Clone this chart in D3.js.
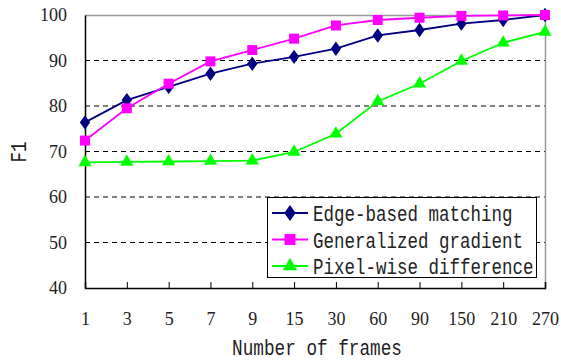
<!DOCTYPE html>
<html>
<head>
<script src="https://d3js.org/d3.v7.min.js"></script>
<style>
  body { margin: 0; background: #fff; }
  svg { display: block; }
</style>
</head>
<body>
<div id="chart"></div>
<script>
var frames = ["1", "3", "5", "7", "9", "15", "30", "60", "90", "150", "210", "270"];
var edgeBased = [76.4, 81.3, 84.2, 87.1, 89.3, 90.8, 92.6, 95.5, 96.7, 98.1, 98.9, 100];
var generalized = [72.4, 79.5, 84.9, 89.8, 92.3, 94.8, 97.7, 98.9, 99.4, 99.8, 99.9, 100];
var pixelWise = [67.6, 67.7, 67.8, 67.9, 68.0, 69.9, 73.9, 81.0, 84.9, 89.9, 93.9, 96.3];
var yTicks = [40, 50, 60, 70, 80, 90, 100];
var seriesNames = ["Edge-based matching", "Generalized gradient", "Pixel-wise difference"];

var W = 561, H = 362;
var pLeft = 85, pRight = 545, pTop = 15, pBottom = 288;

var svg = d3.select("#chart").append("svg")
  .attr("width", W)
  .attr("height", H);

var x = d3.scalePoint().domain(frames).range([pLeft, pRight]);
var y = d3.scaleLinear().domain([40, 100]).range([pBottom, pTop]);

var numFont = "'Liberation Serif', 'DejaVu Serif', serif";
var monoFont = "'Liberation Mono', 'DejaVu Sans Mono', monospace";
var tall = "scale(1,1.25)"; // mono text is tall and narrow in the original

// grid lines
svg.selectAll("line.grid")
  .data(yTicks.filter(function(d) { return d > 40 && d < 100; }))
  .enter().append("line")
  .attr("class", "grid")
  .attr("x1", pLeft).attr("x2", pRight)
  .attr("y1", function(d) { return y(d); })
  .attr("y2", function(d) { return y(d); })
  .attr("stroke", "#000")
  .attr("stroke-width", 1)
  .attr("stroke-dasharray", "5,4");

// top and right frame (grey)
svg.append("path")
  .attr("d", "M" + pLeft + "," + (pTop + 0.5) + "H" + (pRight + 0.5) + "V" + pBottom)
  .attr("fill", "none")
  .attr("stroke", "#999")
  .attr("stroke-width", 1.5);

// y axis
var yAxis = d3.axisLeft(y).tickValues(yTicks).tickSize(0).tickPadding(18);
var gy = svg.append("g").attr("transform", "translate(" + pLeft + ",0)").call(yAxis);
gy.select(".domain").attr("stroke", "#000").attr("stroke-width", 1.5);
gy.selectAll("text")
  .attr("font-family", numFont)
  .attr("font-size", "18px")
  .attr("fill", "#222");

// x axis with inward ticks
var xAxis = d3.axisBottom(x).tickSize(-6).tickPadding(24);
var gx = svg.append("g").attr("transform", "translate(0," + pBottom + ")").call(xAxis);
gx.select(".domain").attr("stroke", "#000").attr("stroke-width", 1.5);
gx.selectAll(".tick line").attr("stroke", "#000");
gx.selectAll("text")
  .attr("font-family", numFont)
  .attr("font-size", "18px")
  .attr("fill", "#222");

// axis titles
svg.append("text")
  .attr("transform", "translate(317,355)" + tall)
  .attr("text-anchor", "middle")
  .attr("font-family", monoFont)
  .attr("font-size", "17.7px")
  .attr("fill", "#222")
  .text("Number of frames");

svg.append("text")
  .attr("transform", "translate(26,152) rotate(-90)" + tall)
  .attr("text-anchor", "middle")
  .attr("font-family", monoFont)
  .attr("font-size", "17.5px")
  .attr("fill", "#222")
  .text("F1");

var series = [
  { name: seriesNames[0], values: edgeBased, color: "#000080", symbol: d3.symbolDiamond, size: 60 },
  { name: seriesNames[1], values: generalized, color: "#ff00ff", symbol: d3.symbolSquare, size: 100 },
  { name: seriesNames[2], values: pixelWise, color: "#00ff00", symbol: d3.symbolTriangle, size: 75 }
];

var line = d3.line()
  .x(function(d, i) { return x(frames[i]); })
  .y(function(d) { return y(d); });

// draw from back to front: pixel, edge, generalized
[2, 0, 1].forEach(function(k) {
  var s = series[k];
  svg.append("path")
    .datum(s.values)
    .attr("d", line)
    .attr("fill", "none")
    .attr("stroke", s.color)
    .attr("stroke-width", 1.8);
  svg.selectAll("path.m" + k)
    .data(s.values)
    .enter().append("path")
    .attr("class", "m" + k)
    .attr("d", d3.symbol().type(s.symbol).size(s.size))
    .attr("transform", function(d, i) {
      var sc = s.symbol === d3.symbolDiamond ? "scale(1.25,1)" : "";
      return "translate(" + x(frames[i]) + "," + y(d) + ")" + sc;
    })
    .attr("fill", s.color);
});

// legend
var legend = svg.append("g");
legend.append("rect")
  .attr("x", 267.5).attr("y", 197.5)
  .attr("width", 269).attr("height", 80)
  .attr("fill", "#fff")
  .attr("stroke", "#000")
  .attr("stroke-width", 1);

var rows = legend.selectAll("g.row")
  .data(series)
  .enter().append("g")
  .attr("class", "row")
  .attr("transform", function(d, i) { return "translate(0," + (213 + i * 26.5) + ")"; });

rows.append("line")
  .attr("x1", 272).attr("x2", 308)
  .attr("stroke", function(d) { return d.color; })
  .attr("stroke-width", 1.8);
rows.append("path")
  .attr("d", function(d) { return d3.symbol().type(d.symbol).size(d.size * 1.2)(); })
  .attr("transform", function(d) {
    return "translate(290,0)" + (d.symbol === d3.symbolDiamond ? "scale(1.25,1)" : "");
  })
  .attr("fill", function(d) { return d.color; });
rows.append("text")
  .attr("transform", "translate(313,8)" + tall)
  .attr("font-family", monoFont)
  .attr("font-size", "17.5px")
  .attr("fill", "#222")
  .text(function(d) { return d.name; });
</script>
</body>
</html>
